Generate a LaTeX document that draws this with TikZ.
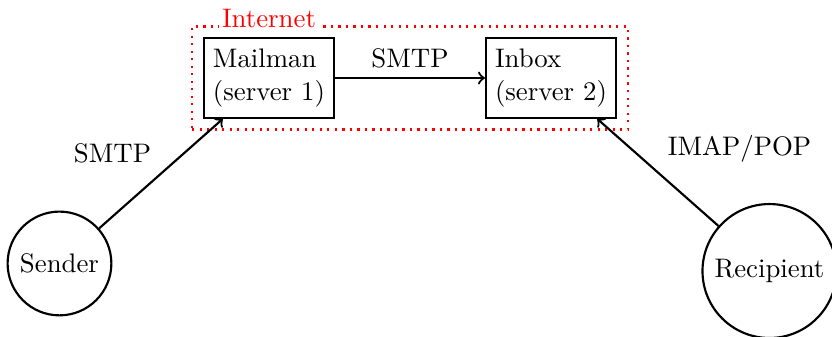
\documentclass[tikz,border=0pt]{standalone}
\usepackage{amsmath}
\usepackage{tikz}
\usetikzlibrary{arrows, fit}

\begin{document}
\begin{tikzpicture} [server/.style = {draw, thick, align=left, inner ysep=4.1pt}, user/.style = {draw, thick, circle}]
\useasboundingbox (0,0) rectangle (10.91,-4.419);
\node[server](m) at (3.527,-1.023){Mailman\\(server 1)};
\node[server](i) at (7.225,-1.023){Inbox\\(server 2)};
\node[user](s) at (0.780,-3.455){Sender};
\node[user](r) at (10.09,-3.554){Recipient};
\node[draw, red, dotted, thick, inner sep=4pt, fit=(m) (i)](net){};
\node[text=red, fill=white, inner sep=1pt, anchor=base] at ([yshift=3.5pt]m.north){Internet};
\draw [thick, ->](m) -- (i) node[above, pos=.5]{SMTP};
\draw [thick, ->](s) -- (m) node[above left, pos=.5]{SMTP};
\draw [thick, ->](r) -- (i) node[above right, pos=.5]{IMAP/POP};
\end{tikzpicture}
\end{document}
